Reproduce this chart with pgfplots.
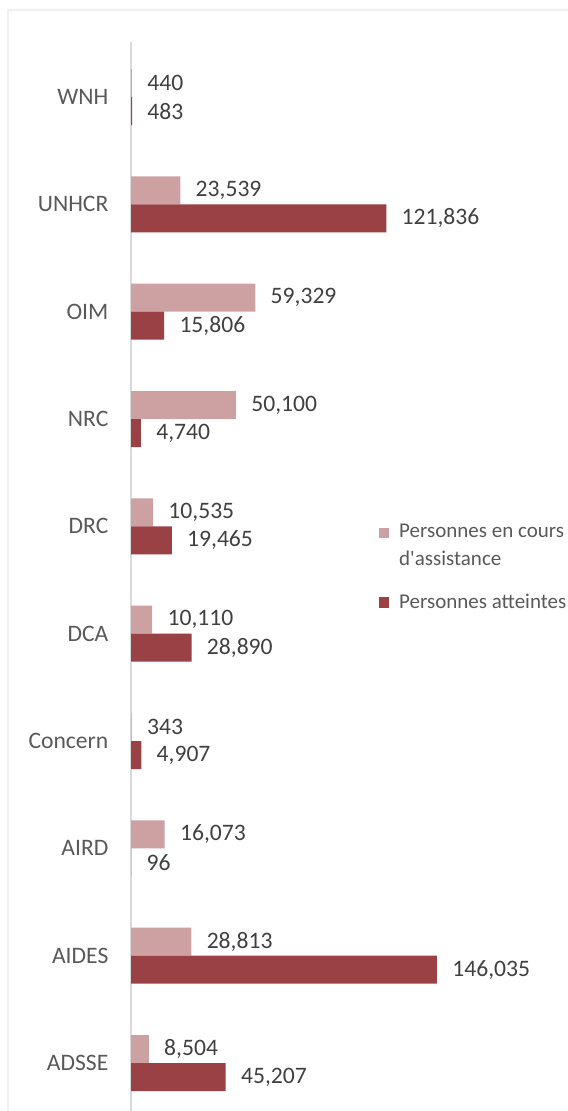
\documentclass[border=0pt]{standalone}
\usepackage{fontspec}
\setmainfont{Carlito}
\usepackage{pgfplots}
\pgfplotsset{compat=1.18}

\definecolor{enCours}{RGB}{205,160,162}
\definecolor{atteintes}{RGB}{154,65,69}
\definecolor{valtxt}{HTML}{404040}
\definecolor{lbltxt}{HTML}{595959}

\pgfplotsset{
  square up/.style={legend image code/.code={\fill[##1] (0pt,4pt) rectangle (5.3pt,9.3pt);}},
}

\begin{document}
\begin{tikzpicture}
\useasboundingbox (0,0) rectangle (283.5pt,555.5pt);
% chart area border (runs off the right and bottom edges)
\draw[gray!12, line width=1pt] (4pt,-10pt) rectangle (300pt,550.5pt);
\begin{axis}[
  at={(65.5pt,0pt)}, anchor=south west,
  scale only axis,
  width=218pt, height=534.5pt,
  xbar,
  bar width=14pt,
  xmin=0, xmax=208100,
  ymin=-0.447, ymax=9.513,
  hide x axis,
  axis y line=left,
  y axis line style={-, draw=gray!30, line width=0.75pt},
  ytick={0,...,9},
  yticklabels={ADSSE,AIDES,AIRD,Concern,DCA,DRC,NRC,OIM,UNHCR,WNH},
  ytick style={draw=none},
  yticklabel style={font=\fontsize{11.8}{14}\selectfont, text=lbltxt, inner sep=0pt, xshift=-9pt},
  point meta=x,
  nodes near coords={\pgfmathprintnumber[fixed, precision=0, 1000 sep={,}, assume math mode=true]{\pgfplotspointmeta}},
  every node near coord/.append style={font=\fontsize{11.8}{14}\selectfont, text=valtxt, anchor=west, inner sep=0pt, xshift=7.5pt},
  legend image code/.code={\fill[#1] (0pt,-2.6pt) rectangle (5.3pt,2.7pt);},
  legend cell align=left,
  legend style={at={(rel axis cs:0.567,0.553)}, anchor=north west, draw=none, fill=none,
    inner sep=0pt, font=\fontsize{10.5}{13.8}\selectfont, text=lbltxt,
    row sep=8.8pt, cells={align=left},
    /tikz/every odd column/.append style={column sep=3pt}},
]
\addplot[fill=enCours, draw=none, bar shift=7pt, square up] coordinates {
  (8504,0) (28813,1) (16073,2) (343,3) (10110,4)
  (10535,5) (50100,6) (59329,7) (23539,8) (440,9)};
\addlegendentry{Personnes en cours\\d\textquotesingle assistance}
\addplot[fill=atteintes, draw=none, bar shift=-7pt] coordinates {
  (45207,0) (146035,1) (96,2) (4907,3) (28890,4)
  (19465,5) (4740,6) (15806,7) (121836,8) (483,9)};
\addlegendentry{Personnes atteintes}
\end{axis}
\end{tikzpicture}
\end{document}
